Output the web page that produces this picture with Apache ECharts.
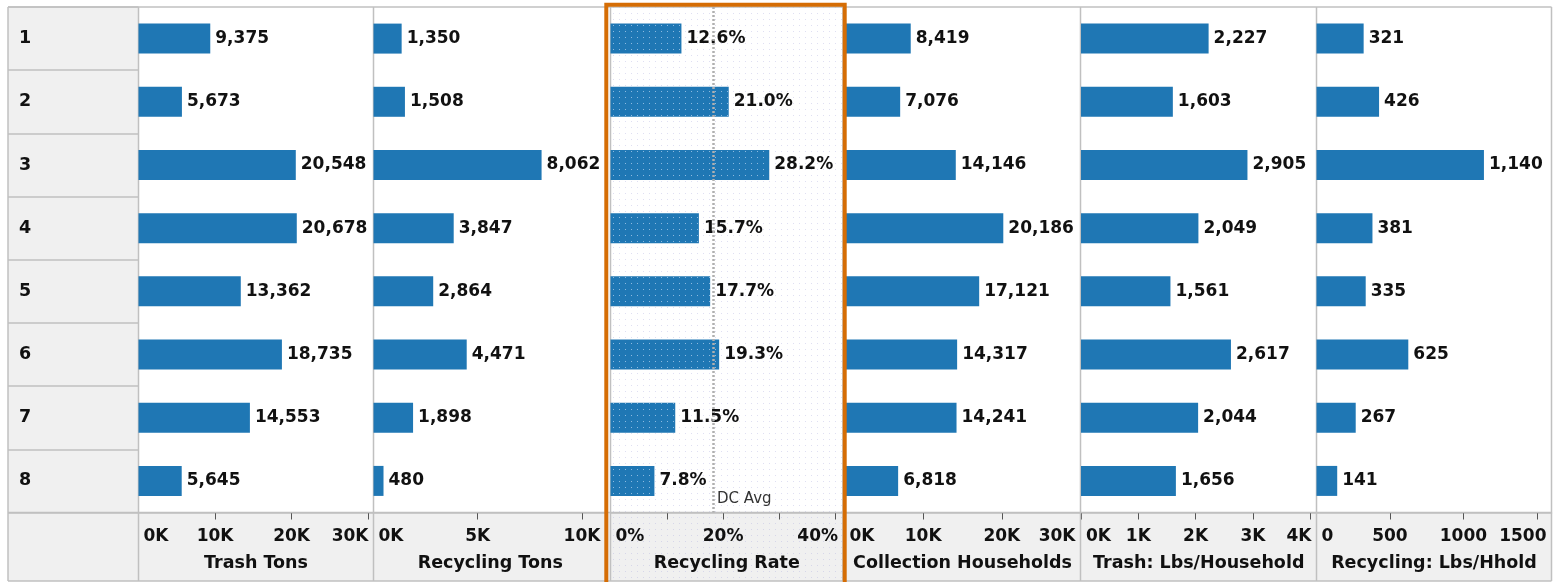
<!DOCTYPE html>
<html><head><meta charset="utf-8">
<script src="https://cdn.jsdelivr.net/npm/echarts@6/dist/echarts.min.js"></script>
<style>html,body{margin:0;padding:0;background:#fff}#c{width:1562px;height:582px}</style>
</head><body><div id="c"></div>
<script>
// ---------------- DATA ----------------
const wards = ['1', '2', '3', '4', '5', '6', '7', '8'];
const trashTons = [9375, 5673, 20548, 20678, 13362, 18735, 14553, 5645];
const recyclingTons = [1350, 1508, 8062, 3847, 2864, 4471, 1898, 480];
const recyclingRate = [12.6, 21.0, 28.2, 15.7, 17.7, 19.3, 11.5, 7.8];
const collectionHouseholds = [8419, 7076, 14146, 20186, 17121, 14317, 14241, 6818];
const trashLbsPerHousehold = [2227, 1603, 2905, 2049, 1561, 2617, 2044, 1656];
const recyclingLbsPerHhold = [321, 426, 1140, 381, 335, 625, 267, 141];
const dcAvgRate = 18.2;
const dcAvgLabel = 'DC Avg';
const panelTitles = ['Trash Tons', 'Recycling Tons', 'Recycling Rate', 'Collection Households', 'Trash: Lbs/Household', 'Recycling: Lbs/Hhold'];
const axisMax = [30700, 11200, 41.3, 30000, 4110, 1600];
const tickInterval = [10000, 5000, 10, 10000, 1000, 500];
const labelStep = [10000, 5000, 20, 10000, 1000, 500];
const tickFormats = ['K', 'K', '%', 'K', 'K', 'plain'];

// ---------------- LAYOUT / STYLE ----------------
const FONT = '"DejaVu Sans", Verdana, sans-serif';
const BLUE = '#1f77b4';
const GRID_LINE = '#c0c0c0';
const HEADER_BG = '#f0f0f0';
const ORANGE = '#d56d05';
const L = 8, R = 1551.5, TOP = 7, ROWS_BOTTOM = 512.5, BOTTOM = 581;
const HEADER_RIGHT = 138.5;
const panelX = [[138.5, 373.5], [373.5, 607], [610.5, 843], [844.5, 1080.5], [1081, 1316.5], [1316.5, 1551.5]];
const seriesData = [trashTons, recyclingTons, recyclingRate, collectionHouseholds, trashLbsPerHousehold, recyclingLbsPerHhold];

const mctx = document.createElement('canvas').getContext('2d');
mctx.font = 'bold 17px ' + FONT;
function textW(t) { return mctx.measureText(t).width; }

function fmtTick(v, kind) {
  if (kind === 'K') return (v / 1000) + 'K';
  if (kind === '%') return v + '%';
  return String(v);
}
function fmtValue(v, idx) {
  if (idx === 2) return v.toFixed(1) + '%';
  return v.toLocaleString('en-US');
}

function makePattern(bg, dot, size) {
  const c = document.createElement('canvas');
  c.width = size; c.height = size;
  const g = c.getContext('2d');
  if (bg) { g.fillStyle = bg; g.fillRect(0, 0, size, size); }
  g.fillStyle = dot; g.fillRect(1, 1, 1, 1);
  return c;
}
const bgDots = makePattern(null, 'rgba(170,170,220,0.38)', 6);
const barDots = makePattern(BLUE, 'rgba(160,198,232,0.85)', 6);

const chart = echarts.init(document.getElementById('c'), null, { renderer: 'canvas' });

const grids = [{ left: L, top: TOP, width: HEADER_RIGHT - L, height: ROWS_BOTTOM - TOP, show: true, backgroundColor: HEADER_BG, borderWidth: 0 }];
const xAxes = [{ gridIndex: 0, type: 'value', show: false }];
const yAxes = [{
  gridIndex: 0, type: 'category', data: wards, inverse: true,
  axisLine: { show: false }, axisTick: { show: false },
  splitLine: { show: true, lineStyle: { color: GRID_LINE, width: 1.5 } },
  axisLabel: { inside: true, margin: 11, fontFamily: FONT, fontWeight: 'bold', fontSize: 17.5, color: '#111' }
}];
const series = [];

panelX.forEach(([x0, x1], i) => {
  const gi = i + 1;
  grids.push({ left: x0, top: TOP, width: x1 - x0, height: ROWS_BOTTOM - TOP });
  // per-label rich styles keep edge labels inside their panel
  const rich = {};
  const px = (x1 - x0) / axisMax[i];
  for (let v = 0, j = 0; v <= axisMax[i] + 1e-9; v += labelStep[i], j++) {
    const t = fmtTick(v, tickFormats[i]);
    const w = textW(t);
    const cx = x0 + v * px;
    let shift = 0;
    if (cx - w / 2 < x0 + 5) shift = x0 + 5 - (cx - w / 2);
    if (cx + w / 2 > x1 - 5) shift = (x1 - 5) - (cx + w / 2);
    rich['a' + j] = {
      fontFamily: FONT, fontWeight: 'bold', fontSize: 17, color: '#111',
      padding: shift > 0 ? [0, 0, 0, 2 * shift] : [0, -2 * shift, 0, 0]
    };
  }
  xAxes.push({
    gridIndex: gi, type: 'value', min: 0, max: axisMax[i], interval: tickInterval[i],
    name: panelTitles[i], nameLocation: 'middle', nameGap: 42,
    nameTextStyle: { fontFamily: FONT, fontWeight: 'bold', fontSize: 17.5, color: '#111' },
    axisLine: { show: true, lineStyle: { color: GRID_LINE, width: 1.5 } },
    axisTick: { show: true, length: 7, lineStyle: { color: '#555', width: 1 } },
    splitLine: { show: false },
    axisLabel: {
      margin: 16, fontFamily: FONT, fontWeight: 'bold', fontSize: 17, color: '#111', rich,
      formatter: (v) => {
        const r = v / labelStep[i];
        if (Math.abs(r - Math.round(r)) > 1e-6) return '';
        return '{a' + Math.round(r) + '|' + fmtTick(Math.round(v * 1000) / 1000, tickFormats[i]) + '}';
      }
    }
  });
  yAxes.push({ gridIndex: gi, type: 'category', data: wards, inverse: true, show: false });
  const s = {
    type: 'bar', xAxisIndex: gi, yAxisIndex: gi, data: seriesData[i], barWidth: 30,
    itemStyle: { color: i === 2 ? { image: barDots, repeat: 'repeat' } : BLUE },
    label: {
      show: true, position: 'right', distance: 5, fontFamily: FONT, fontWeight: 'bold', fontSize: 17, color: '#111',
      formatter: (p) => fmtValue(p.value, i)
    },
    animation: false
  };
  if (i === 2) {
    s.markLine = {
      silent: true, symbol: ['none', 'none'], label: { show: false },
      lineStyle: { color: '#b0b0b0', type: [2, 2], width: 2.5 },
      data: [{ xAxis: dcAvgRate }], animation: false
    };
    s.markPoint = {
      silent: true, symbol: 'circle', symbolSize: 0,
      label: { show: true, position: 'right', distance: 4, offset: [0, 18], formatter: dcAvgLabel, fontFamily: FONT, fontSize: 15, color: '#333' },
      data: [{ coord: [dcAvgRate, wards[wards.length - 1]] }], animation: false
    };
  }
  series.push(s);
});

// chrome: bands, panel borders, highlight frame
const graphic = [
  { type: 'rect', z: -5, shape: { x: L, y: ROWS_BOTTOM, width: R - L, height: BOTTOM - ROWS_BOTTOM }, style: { fill: HEADER_BG } },
  { type: 'rect', z: -4, shape: { x: panelX[2][0], y: TOP, width: panelX[2][1] - panelX[2][0], height: BOTTOM - TOP }, style: { fill: { image: bgDots, repeat: 'repeat' } } }
];
const vx = [L, HEADER_RIGHT, panelX[1][0], panelX[1][1], panelX[2][0], panelX[2][1], panelX[3][1], panelX[4][1], R];
vx.forEach(x => graphic.push({ type: 'line', z: 1, shape: { x1: x, y1: TOP, x2: x, y2: BOTTOM }, style: { stroke: GRID_LINE, lineWidth: 1.5 } }));
[TOP, ROWS_BOTTOM, BOTTOM].forEach(y => graphic.push({ type: 'line', z: 1, shape: { x1: L, y1: y, x2: R, y2: y }, style: { stroke: GRID_LINE, lineWidth: 1.5 } }));
graphic.push({ type: 'rect', z: 20, shape: { x: 606.3, y: 4.7, width: 238.4, height: 590 }, style: { fill: 'none', stroke: ORANGE, lineWidth: 4 } });

chart.setOption({
  animation: false,
  backgroundColor: '#ffffff',
  grid: grids, xAxis: xAxes, yAxis: yAxes, series, graphic
});
</script></body></html>
